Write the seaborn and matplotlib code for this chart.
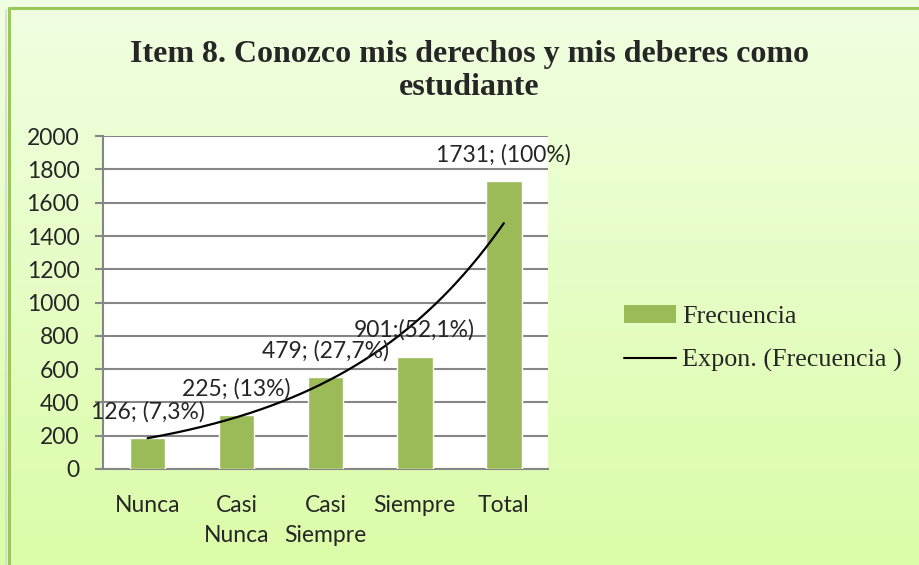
import numpy as np
import seaborn as sns
import matplotlib.pyplot as plt
from matplotlib.patches import Patch
from matplotlib.lines import Line2D

categories = ['Nunca', 'Casi\nNunca', 'Casi\nSiempre', 'Siempre', 'Total']
frecuencia = [186, 324, 554, 675, 1730]
etiquetas = ['126; (7,3%)', '225; (13%)', '479; (27,7%)', '901;(52,1%)', '1731; (100%)']

bar_color = '#9bbb59'
label_font = 'Lato'
fs = 16.5

sns.set_style('white')
fig = plt.figure(figsize=(9.2, 5.65), dpi=100)

# gradient background with green border
bg = fig.add_axes([0, 0, 1, 1], zorder=-5)
grad = np.linspace(0, 1, 256).reshape(256, 1, 1)
top = np.array([0.945, 1.0, 0.885])
bot = np.array([0.86, 0.99, 0.66])
img = top + (bot - top) * grad
bg.imshow(img, aspect='auto', extent=[0, 1, 0, 1])
bg.plot([0.0095, 0.0095], [0, 0.985], color='#9bc85a', lw=2.2)
bg.plot([0.0095, 1], [0.985, 0.985], color='#9bc85a', lw=2.2)
bg.plot([0.006, 0.006], [0, 0.982], color='#d8d8d8', lw=1.2)
bg.set_xlim(0, 1)
bg.set_ylim(0, 1)
bg.axis('off')

ax = fig.add_axes([0.112, 0.170, 0.484, 0.589])
ax.set_facecolor('white')
sns.barplot(x=list(range(len(categories))), y=frecuencia, color=bar_color,
            width=0.4, saturation=1, ax=ax, zorder=3)

# exponential trend line (Excel style fit)
xs = np.arange(len(frecuencia))
b, a = np.polyfit(xs, np.log(frecuencia), 1)
xt = np.linspace(0, len(frecuencia) - 1, 200)
ax.plot(xt, np.exp(a + b * xt), color='black', lw=1.6, zorder=4)

for i, (v, t) in enumerate(zip(frecuencia, etiquetas)):
    ax.annotate(t, (i, v), xytext=(0, 19), textcoords='offset points',
                ha='center', va='center', fontsize=fs, family=label_font,
                zorder=5, annotation_clip=False)

ax.set_ylim(0, 2000)
ax.set_xlim(-0.5, len(categories) - 0.5)
ax.set_yticks(range(0, 2001, 200))
ax.yaxis.grid(True, color='#868686', lw=1.5)
ax.set_axisbelow(True)
for s in ['top', 'right']:
    ax.spines[s].set_visible(False)
for s in ['left', 'bottom']:
    ax.spines[s].set_color('#868686')
    ax.spines[s].set_linewidth(1.5)
ax.set_xticks(range(len(categories)))
ax.set_xticklabels(categories, fontsize=fs, family=label_font, linespacing=1.5)
ax.set_xticks(np.arange(-0.5, len(categories), 1), minor=True)
ax.tick_params(axis='x', which='major', length=0, pad=19)
ax.tick_params(axis='x', which='minor', length=6, width=1.5, color='#868686', direction='out')
ax.tick_params(axis='y', length=6, width=1.5, color='#868686', direction='out', pad=11,
               labelsize=fs, left=True)
for lbl in ax.get_yticklabels():
    lbl.set_family(label_font)
ax.set_xlabel('')
ax.set_ylabel('')

fig.text(0.51, 0.903, 'Item 8. Conozco mis derechos y mis deberes como',
         ha='center', va='center', fontsize=23, fontweight='bold', family='Liberation Serif')
fig.text(0.51, 0.845, 'estudiante',
         ha='center', va='center', fontsize=23, fontweight='bold', family='Liberation Serif')

handles = [Patch(facecolor=bar_color, edgecolor='none'),
           Line2D([0], [0], color='black', lw=1.5)]
fig.legend(handles, ['Frecuencia', 'Expon. (Frecuencia )'], loc='center left',
           bbox_to_anchor=(0.653, 0.401), frameon=False,
           prop={'family': 'Liberation Serif', 'size': 18.8},
           handlelength=2.0, handletextpad=0.2, labelspacing=0.78)

fig.savefig('out.png', dpi=100)
